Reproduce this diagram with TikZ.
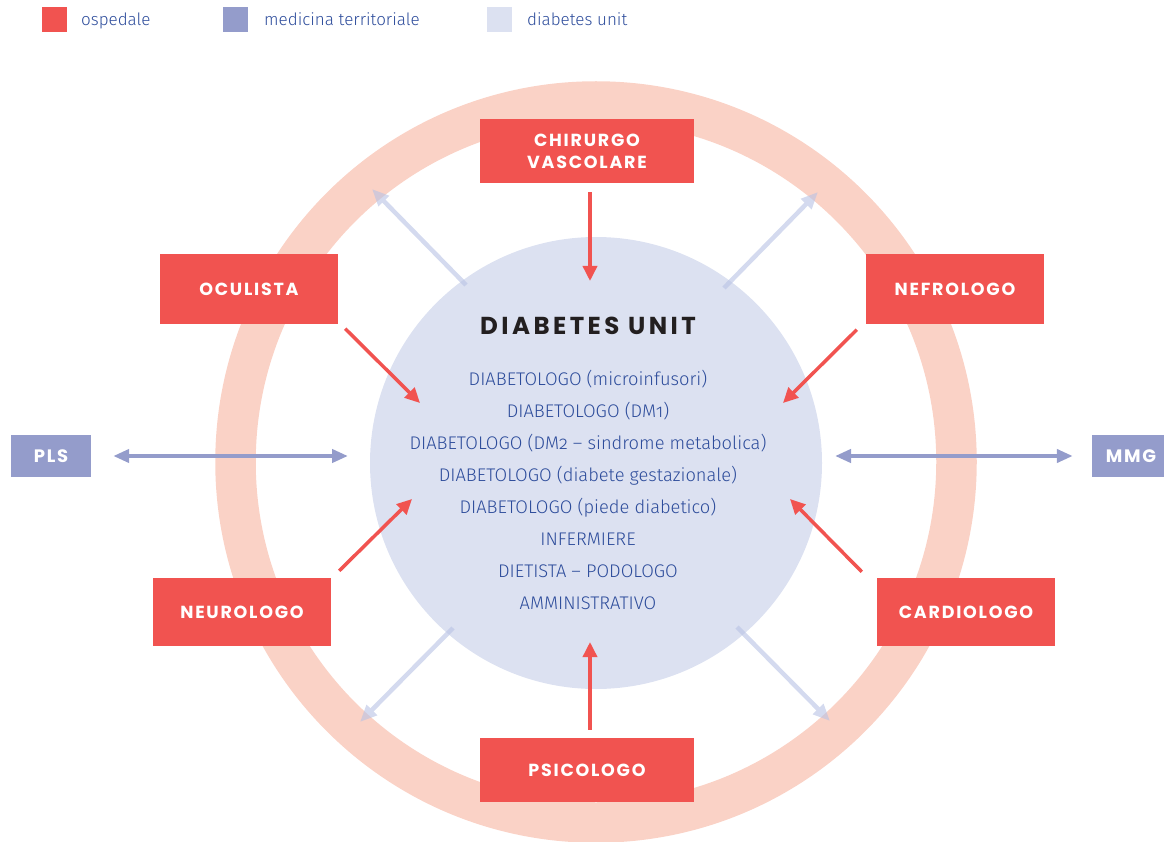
\documentclass[tikz,border=0pt]{standalone}
\usepackage{fontspec}
\usetikzlibrary{arrows.meta,calc}
\setmainfont{Fira Sans}
\newfontfamily\boxfont{Poppins}[LetterSpace=10]
\newfontfamily\titlefont{Poppins}[LetterSpace=14]
\IfFontExistsTF{Fira Sans Book}{%
  \newfontfamily\listfont{Fira Sans Book}[Numbers=OldStyle]}{%
  \IfFontExistsTF{Fira Sans Light}{%
    \newfontfamily\listfont{Fira Sans Light}[Numbers=OldStyle]}{%
    \newfontfamily\listfont{Fira Sans}[Numbers=OldStyle]}}
\definecolor{hosp}{HTML}{F15350}
\definecolor{terr}{HTML}{949CCB}
\definecolor{unitc}{HTML}{DCE1F1}
\definecolor{ringc}{HTML}{FAD2C6}
\definecolor{txtblue}{HTML}{2D4C9B}
\definecolor{lightarr}{HTML}{B8C2E4}
\definecolor{titlec}{HTML}{231F20}
\tikzset{
  hbox/.style={fill=hosp, text=white, inner sep=0pt, align=center,
    font=\boxfont\bfseries\fontsize{17.5}{22}\selectfont},
  tbox/.style={fill=terr, text=white, inner sep=0pt, align=center,
    font=\boxfont\bfseries\fontsize{18}{22}\selectfont},
  redarrow/.style={hosp, line width=3.5pt, -{Triangle[length=15pt,width=14pt]}},
  terrarrow/.style={terr, line width=4.5pt, {Triangle[length=16pt,width=13pt]}-{Triangle[length=16pt,width=13pt]}},
  lightarrow/.style={lightarr, line width=4.5pt, -{Triangle[length=17pt,width=14pt]}},
  listline/.style={anchor=base, text=txtblue, inner sep=0pt,
    font=\listfont\fontsize{18.3}{21}\selectfont},
  legsq/.style={minimum size=25pt, inner sep=0pt, anchor=north west},
  legtext/.style={anchor=base west, text=txtblue, inner sep=0pt,
    font=\listfont\fontsize{17}{19}\selectfont}
}
\begin{document}
\begin{tikzpicture}[x=1pt,y=-1pt]
\useasboundingbox (0,0) rectangle (1164,842);
% legend
\node[legsq, fill=hosp] (lq1) at (42,7) {};
\node[legtext] (lt1) at (81,26) {ospedale};
\node[legsq, fill=terr] (lq2) at (223,7) {};
\node[legtext] (lt2) at (264,26) {medicina territoriale};
\node[legsq, fill=unitc] (lq3) at (487,7) {};
\node[legtext] (lt3) at (527,26) {diabetes unit};
% ring
\draw[ringc, line width=40.5pt] (596,462) circle[radius=360.5pt];
% inner circle
\node[circle, fill=unitc, minimum size=452pt, inner sep=0pt] (du) at (596,463) {};
\node[anchor=base, text=titlec, inner sep=0pt,
  font=\titlefont\bfseries\fontsize{24.5}{28}\selectfont] (title) at (588,334) {DIABETES UNIT};
\foreach \t [count=\i] in {DIABETOLOGO (microinfusori),DIABETOLOGO (DM1),
  DIABETOLOGO (DM2 – sindrome metabolica),DIABETOLOGO (diabete gestazionale),
  DIABETOLOGO (piede diabetico),INFERMIERE,DIETISTA – PODOLOGO,AMMINISTRATIVO}
  \node[listline] (l\i) at (588,{385+32*(\i-1)}) {\t};
% light arrows
\coordinate (a1s) at (466,285); \coordinate (a1e) at (372,189);
\coordinate (a2s) at (724,288); \coordinate (a2e) at (818,192);
\coordinate (a3s) at (453,628); \coordinate (a3e) at (360,722);
\coordinate (a4s) at (737,627); \coordinate (a4e) at (830,721);
\begin{scope}[transparency group, opacity=0.6]
\draw[lightarrow] (a1s) -- (a1e);
\end{scope}
\begin{scope}[transparency group, opacity=0.6]
\draw[lightarrow] (a2s) -- (a2e);
\end{scope}
\begin{scope}[transparency group, opacity=0.6]
\draw[lightarrow] (a3s) -- (a3e);
\end{scope}
\begin{scope}[transparency group, opacity=0.6]
\draw[lightarrow] (a4s) -- (a4e);
\end{scope}
% boxes
\node[hbox, minimum width=214pt, minimum height=64pt] (chir) at (587,151) {CHIRURGO\\VASCOLARE};
\node[hbox, minimum width=178pt, minimum height=69pt] (ocu) at (249,289) {OCULISTA};
\node[hbox, minimum width=178pt, minimum height=69pt] (nef) at (955,289) {NEFROLOGO};
\node[hbox, minimum width=178pt, minimum height=68pt] (neu) at (242,612) {NEUROLOGO};
\node[hbox, minimum width=178pt, minimum height=68pt] (car) at (966,612) {CARDIOLOGO};
\node[hbox, minimum width=214pt, minimum height=64pt] (psi) at (587,770) {PSICOLOGO};
\node[tbox, minimum width=80pt, minimum height=42pt] (pls) at (51,456) {PLS};
\node[tbox, minimum width=72pt, minimum height=42pt] (mmg) at (1128,456) {\hspace*{6pt}MMG};
% arrow end points on the diabetes unit
\coordinate (t1) at (590,281);
\coordinate (t2) at (420,403);
\coordinate (t3) at (783,403);
\coordinate (t4) at (412,499);
\coordinate (t5) at (790,499);
\coordinate (t6) at (590,642);
\coordinate (t7) at (348,456);
\coordinate (t8) at (835,456);
% red arrows
\draw[redarrow] ($(chir.south -| t1)+(0,9)$) -- (t1);
\draw[redarrow] ($(ocu.south east)+(7,5)$) -- (t2);
\draw[redarrow] ($(nef.south west)+(-9,6)$) -- (t3);
\draw[redarrow] ($(neu.north east)+(8,-7)$) -- (t4);
\draw[redarrow] ($(car.north west)+(-15,-6)$) -- (t5);
\draw[redarrow] ($(psi.north -| t6)+(0,-8)$) -- (t6);
% territorial arrows
\draw[terrarrow] ($(pls.east)+(22,0)$) -- (t7);
\draw[terrarrow] (t8) -- ($(mmg.west)+(-19,0)$);
\end{tikzpicture}
\end{document}
